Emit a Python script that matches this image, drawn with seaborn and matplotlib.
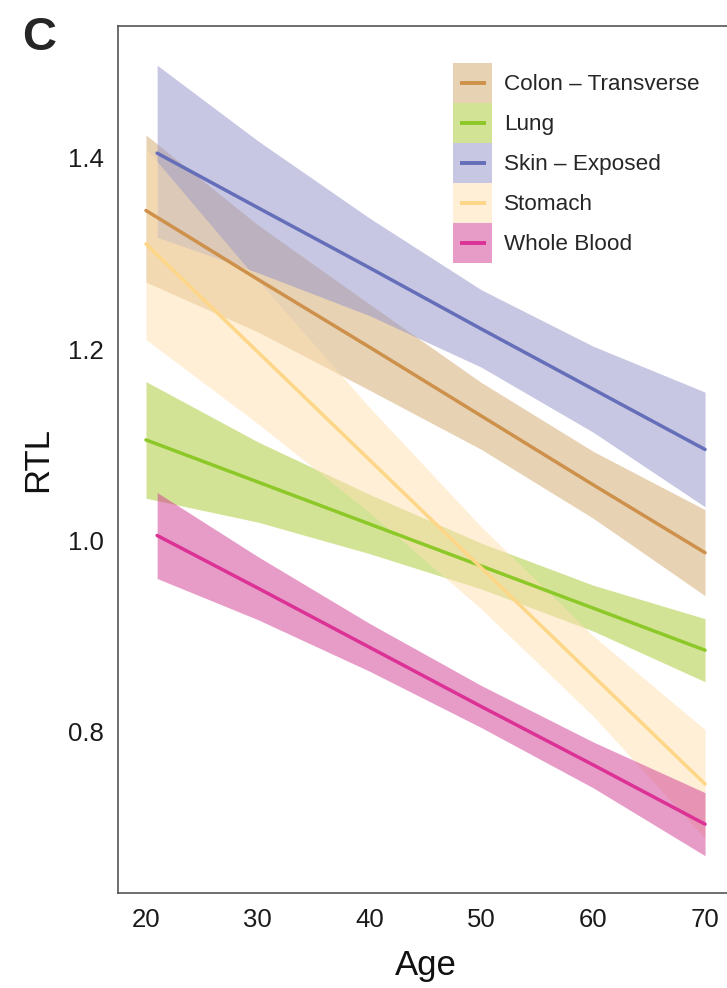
import numpy as np
import pandas as pd
import matplotlib
matplotlib.use("Agg")
import matplotlib.pyplot as plt
import seaborn as sns
from matplotlib.patches import Rectangle
from matplotlib.lines import Line2D

# ==========================
# 数据
# ==========================
tissues = ["Colon – Transverse", "Lung", "Skin – Exposed", "Stomach", "Whole Blood"]

ages_colon = [20, 30, 40, 50, 60, 70]
ages_lung = [20, 30, 40, 50, 60, 70]
ages_skin = [21, 30, 40, 50, 60, 70]
ages_stomach = [20, 30, 40, 50, 60, 70]
ages_blood = [21, 30, 40, 50, 60, 70]

fit_colon = [1.345, 1.273, 1.202, 1.130, 1.058, 0.987]
lo_colon = [1.270, 1.218, 1.157, 1.095, 1.023, 0.942]
hi_colon = [1.424, 1.330, 1.247, 1.165, 1.093, 1.032]

fit_lung = [1.105, 1.061, 1.017, 0.973, 0.929, 0.885]
lo_lung = [1.044, 1.019, 0.986, 0.949, 0.905, 0.852]
hi_lung = [1.166, 1.103, 1.048, 0.997, 0.953, 0.918]

fit_skin = [1.405, 1.348, 1.285, 1.221, 1.158, 1.095]
lo_skin = [1.317, 1.280, 1.235, 1.181, 1.113, 1.035]
hi_skin = [1.497, 1.418, 1.337, 1.262, 1.203, 1.155]

fit_stomach = [1.310, 1.197, 1.084, 0.971, 0.858, 0.745]
lo_stomach = [1.210, 1.122, 1.029, 0.928, 0.816, 0.688]
hi_stomach = [1.410, 1.272, 1.139, 1.014, 0.900, 0.802]

fit_blood = [1.005, 0.950, 0.888, 0.826, 0.765, 0.703]
lo_blood = [0.960, 0.917, 0.863, 0.804, 0.741, 0.670]
hi_blood = [1.050, 0.983, 0.913, 0.848, 0.789, 0.736]

line_colors = ["#cd914b", "#8cc828", "#646eb9", "#fdd787", "#dc3296"]
fill_colors = ["#d3a76b", "#a9c92d", "#9191c9", "#ffe1b1", "#d13991"]

x_ticks = [20, 30, 40, 50, 60, 70]
y_ticks = [0.8, 1.0, 1.2, 1.4]

# 长表
frames = []
for name, a, f, lo, hi in zip(
    tissues,
    [ages_colon, ages_lung, ages_skin, ages_stomach, ages_blood],
    [fit_colon, fit_lung, fit_skin, fit_stomach, fit_blood],
    [lo_colon, lo_lung, lo_skin, lo_stomach, lo_blood],
    [hi_colon, hi_lung, hi_skin, hi_stomach, hi_blood],
):
    frames.append(pd.DataFrame({"Age": a, "RTL": f, "lo": lo, "hi": hi, "Tissue": name}))
df = pd.concat(frames, ignore_index=True)

FILL_ALPHA = 0.5


# 图例 key: 色块 + 短线 (ggplot 风格)
class KeyHandler:
    def legend_artist(self, legend, orig_handle, fontsize, handlebox):
        fc, lc = orig_handle
        x0, y0 = handlebox.xdescent, handlebox.ydescent
        w, h = handlebox.width, handlebox.height
        tr = handlebox.get_transform()
        rect = Rectangle((-x0, -y0), w, h, facecolor=fc, alpha=FILL_ALPHA,
                         edgecolor="none", transform=tr)
        ln = Line2D([-x0 + 0.18 * w, -x0 + 0.85 * w], [-y0 + h / 2] * 2,
                    color=lc, lw=2.8, solid_capstyle="butt", transform=tr)
        handlebox.add_artist(rect)
        handlebox.add_artist(ln)
        return rect


# ==========================
# 绘图
# ==========================
sns.set_style("white")
plt.rcParams["font.family"] = ["Liberation Sans", "DejaVu Sans"]

fig = plt.figure(figsize=(7.27, 9.88), dpi=100)
ax = fig.add_axes([118 / 727, 95 / 988, 615 / 727, 867 / 988])

for i, name in enumerate(tissues):
    sub = df[df["Tissue"] == name]
    ax.fill_between(sub["Age"], sub["lo"], sub["hi"], color=fill_colors[i],
                    alpha=FILL_ALPHA, linewidth=0)
    sns.lineplot(data=sub, x="Age", y="RTL", color=line_colors[i], lw=2.5,
                 ax=ax, legend=False)

ax.set_xlim(17.5, 72.5)
ax.set_ylim(0.631, 1.538)
ax.set_xticks(x_ticks)
ax.set_yticks(y_ticks)
ax.set_xticklabels([str(t) for t in x_ticks])
ax.set_yticklabels([f"{t:.1f}" for t in y_ticks])
ax.tick_params(axis="both", labelsize=18.5, length=5, width=1.1, color="#444444",
               labelcolor="#1a1a1a", direction="out")
ax.tick_params(axis="x", pad=6)
ax.tick_params(axis="y", pad=5)
for s in ax.spines.values():
    s.set_color("#555555")
    s.set_linewidth(1.2)

ax.set_xlabel("Age", fontsize=25, labelpad=12, color="#111111")
ax.set_ylabel("RTL", fontsize=25, labelpad=10, color="#111111")

handles = [(fill_colors[i], line_colors[i]) for i in range(len(tissues))]
leg = ax.legend(handles, tissues, handler_map={tuple: KeyHandler()},
                loc="upper left", bbox_to_anchor=(0.545, 0.957),
                frameon=False, fontsize=16.2, handlelength=1.72, handleheight=2.36,
                labelspacing=0.0, handletextpad=0.55, borderpad=0, borderaxespad=0)

fig.text(0.03, 0.984, "C", fontsize=34, fontweight="bold", va="top", ha="left",
         family=["Liberation Sans Narrow", "DejaVu Sans Condensed", "Liberation Sans"])

fig.savefig("out.png", dpi=100)
